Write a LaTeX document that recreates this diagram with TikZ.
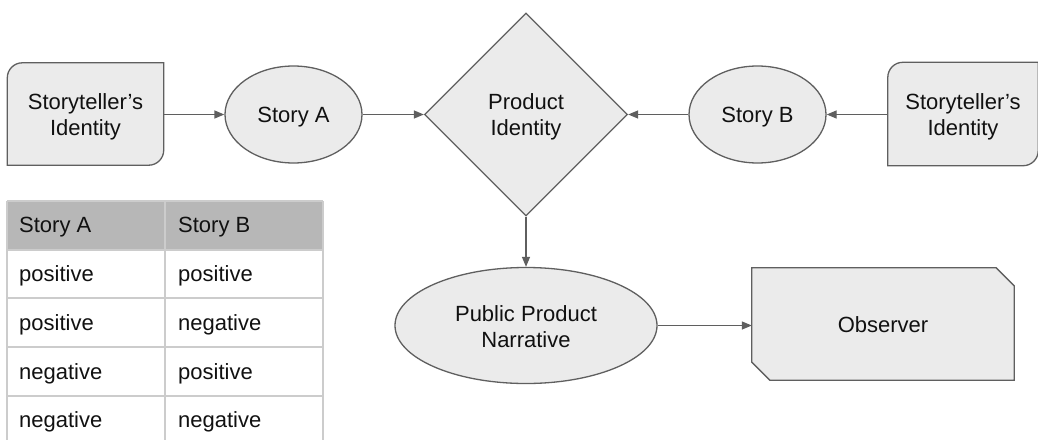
\documentclass[tikz,border=0pt]{standalone}
\usepackage{fontspec}
\setmainfont{Liberation Sans}
\usetikzlibrary{shapes.geometric,arrows.meta}
\definecolor{shapefill}{HTML}{EBEBEB}
\definecolor{edge}{HTML}{5F5F5F}
\definecolor{ink}{HTML}{111111}
\definecolor{headfill}{HTML}{B7B7B7}
\definecolor{grid}{HTML}{CCCCCC}
\tikzset{
  lbl/.style={font=\fontsize{22}{26}\selectfont, text=ink, align=center},
  shapeline/.style={draw=edge, line width=1.3pt, fill=shapefill},
  oval/.style={ellipse, shapeline, inner sep=0pt, lbl},
  rhomb/.style={diamond, shapeline, inner sep=0pt, minimum width=203pt, minimum height=203pt, lbl},
  holder/.style={rectangle, inner sep=0pt, lbl},
  link/.style={draw=edge, line width=1.3pt, -{Triangle[length=10pt,width=8pt]}},
  cell/.style={anchor=west, inner sep=0pt, font=\fontsize{22}{24}\selectfont, text=ink},
  gridline/.style={draw=grid, line width=1.3pt}
}
\begin{document}
\begin{tikzpicture}[x=1pt, y=-1pt]
\useasboundingbox (0,0) rectangle (1038,439);

% storyteller boxes: rounded top-left and bottom-right corners
\node[holder, minimum width=156pt, minimum height=102pt] (tellA) at (85.5,114) {};
\node[holder, minimum width=150pt, minimum height=103pt] (tellB) at (963,114) {};
\foreach \n in {tellA, tellB} {
  \path[shapeline] (\n.south west) -- ([yshift=-15pt]\n.north west)
    arc[start angle=180, end angle=90, radius=15pt] -- (\n.north east)
    -- ([yshift=15pt]\n.south east)
    arc[start angle=0, end angle=-90, radius=15pt] -- cycle;
}
\node[holder] at ([yshift=-3pt]tellA) {Storyteller’s\\Identity};
\node[holder] at ([yshift=-3pt]tellB) {Storyteller’s\\Identity};

% stories and the product identity
\node[oval, minimum width=137pt, minimum height=97pt, text depth=-1pt] (storyA) at (293.5,114.5) {Story A};
\node[oval, minimum width=137pt, minimum height=97pt, text depth=-1pt] (storyB) at (757.5,114.5) {Story B};
\node[rhomb] (product) at (526,114.5) {};
\node[holder] at ([yshift=-2pt]product) {Product\\Identity};

% public narrative and observer
\node[oval, minimum width=262pt, minimum height=116pt] (narr) at (526,325.5) {};
\node[holder] at ([yshift=-1pt]narr) {Public Product\\Narrative};
\node[holder, minimum width=262pt, minimum height=112pt] (obs) at (883,324) {};
\path[shapeline] (obs.north west) -- ([xshift=-18pt]obs.north east)
  -- ([yshift=-18pt]obs.north east) -- (obs.south east)
  -- ([xshift=18pt]obs.south west) -- ([yshift=18pt]obs.south west) -- cycle;
\node[holder] at ([yshift=-1pt]obs) {Observer};

% connectors
\draw[link] (tellA.east |- storyA.west) -- (storyA.west);
\draw[link] (storyA.east) -- (product.west);
\draw[link] (tellB.west |- storyB.east) -- (storyB.east);
\draw[link] (storyB.west) -- (product.east);
\draw[link] (product.south) -- (narr.north);
\draw[link] (narr.east) -- (obs.west |- narr.east);

% outcome table
\fill[headfill] (7,201) rectangle (323,250);
\foreach \yy in {201,250,298,347,396} \draw[gridline] (7,\yy) -- (323,\yy);
\foreach \xx in {7,165,323} \draw[gridline] (\xx,201) -- (\xx,445);
\node[cell] (hA) at (19,227.5) {Story A};
\node[cell] (hB) at (178,227.5) {Story B};
\node[cell] (r1a) at (19,275.5) {positive};
\node[cell] (r1b) at (178,275.5) {positive};
\node[cell] (r2a) at (19,324.5) {positive};
\node[cell] (r2b) at (178,324.5) {negative};
\node[cell] (r3a) at (19,373.5) {negative};
\node[cell] (r3b) at (178,373.5) {positive};
\node[cell] (r4a) at (19,421.5) {negative};
\node[cell] (r4b) at (178,421.5) {negative};
\end{tikzpicture}
\end{document}
